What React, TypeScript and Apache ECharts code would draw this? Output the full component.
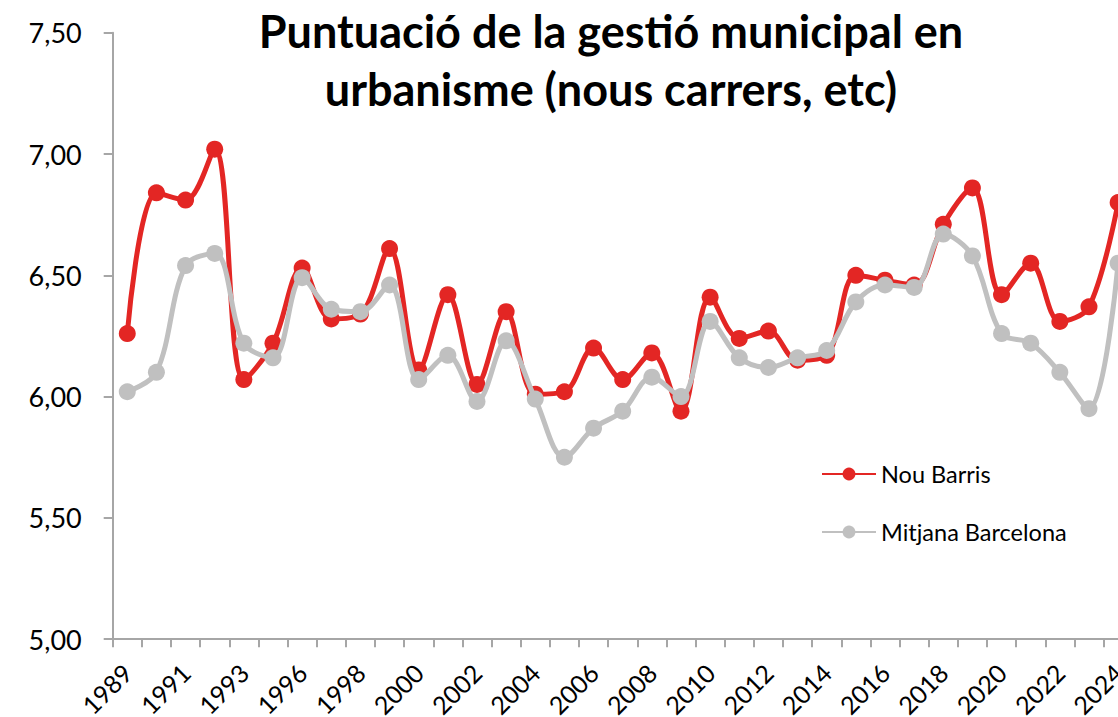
import React, { useEffect, useRef } from "react";
import * as echarts from "echarts";

const years = [
  "1989", "1990", "1991", "1992", "1993", "1995", "1996", "1997", "1998", "1999",
  "2000", "2001", "2002", "2003", "2004", "2005", "2006", "2007", "2008", "2009",
  "2010", "2011", "2012", "2013", "2014", "2015", "2016", "2017", "2018", "2019",
  "2020", "2021", "2022", "2023", "2024",
];

const nouBarris = [
  6.26, 6.84, 6.81, 7.02, 6.07, 6.22, 6.53, 6.32, 6.34, 6.61,
  6.11, 6.42, 6.05, 6.35, 6.01, 6.02, 6.20, 6.07, 6.18, 5.94,
  6.41, 6.24, 6.27, 6.15, 6.17, 6.50, 6.48, 6.46, 6.71, 6.86,
  6.42, 6.55, 6.31, 6.37, 6.80,
];

const mitjanaBarcelona = [
  6.02, 6.10, 6.54, 6.59, 6.22, 6.16, 6.49, 6.36, 6.35, 6.46,
  6.07, 6.17, 5.98, 6.23, 5.99, 5.75, 5.87, 5.94, 6.08, 6.00,
  6.31, 6.16, 6.12, 6.16, 6.19, 6.39, 6.46, 6.45, 6.67, 6.58,
  6.26, 6.22, 6.10, 5.95, 6.55,
];

const seriesNames = ["Nou Barris", "Mitjana Barcelona"];
const titleText = "Puntuació de la gestió municipal en\nurbanisme (nous carrers, etc)";

const FONT = "Lato, 'Open Sans', sans-serif";
const RED = "#E32624";
const GRAY = "#C0C0C0";
const AXIS = "#A6A6A6";

export default function App() {
  const ref = useRef<HTMLDivElement>(null);

  useEffect(() => {
    document.body.style.margin = "0";
    document.body.style.overflow = "hidden";
    if (!ref.current) return;
    const chart = echarts.init(ref.current, undefined, { renderer: "svg" });
    chart.setOption({
      animation: false,
      backgroundColor: "#ffffff",
      title: {
        text: titleText,
        left: 611,
        top: 2,
        padding: 0,
        textAlign: "center",
        textStyle: {
          fontFamily: FONT,
          fontWeight: "bold",
          fontSize: 45,
          lineHeight: 58,
          color: "#000",
        },
      },
      legend: {
        orient: "vertical",
        left: 821,
        top: 462,
        padding: 0,
        itemWidth: 54,
        itemHeight: 16,
        itemGap: 34,
        data: seriesNames,
        textStyle: {
          fontFamily: FONT,
          fontSize: 23.5,
          lineHeight: 22,
          color: "#000",
        },
      },
      grid: {
        left: 112.7,
        top: 32.7,
        width: 1020,
        height: 606.5,
        containLabel: false,
        outerBoundsMode: "none",
      },
      xAxis: {
        type: "category",
        data: years,
        boundaryGap: true,
        axisLine: { show: true, lineStyle: { color: AXIS, width: 2 } },
        axisTick: {
          show: true,
          interval: 0,
          alignWithLabel: false,
          length: 8,
          lineStyle: { color: AXIS, width: 2 },
        },
        axisLabel: {
          interval: 1,
          rotate: 45,
          margin: 29,
          fontFamily: FONT,
          fontSize: 25,
          color: "#000",
        },
        splitLine: { show: false },
      },
      yAxis: {
        type: "value",
        min: 5,
        max: 7.5,
        interval: 0.5,
        axisLine: { show: true, lineStyle: { color: AXIS, width: 2 } },
        axisTick: { show: true, length: 9, lineStyle: { color: AXIS, width: 2 } },
        axisLabel: {
          margin: 31,
          fontFamily: FONT,
          fontSize: 27,
          color: "#000",
          formatter: (v: number) => v.toFixed(2).replace(".", ","),
        },
        splitLine: { show: false },
      },
      series: [
        {
          name: seriesNames[0],
          type: "line",
          data: nouBarris,
          smooth: 0.35,
          symbol: "circle",
          symbolSize: 17,
          lineStyle: { color: RED, width: 5 },
          itemStyle: { color: RED },
          z: 2,
        },
        {
          name: seriesNames[1],
          type: "line",
          data: mitjanaBarcelona,
          smooth: 0.35,
          symbol: "circle",
          symbolSize: 17,
          lineStyle: { color: GRAY, width: 5 },
          itemStyle: { color: GRAY },
          z: 3,
        },
      ],
    });
    return () => chart.dispose();
  }, []);

  return <div ref={ref} style={{ width: 1118, height: 717 }} />;
}
